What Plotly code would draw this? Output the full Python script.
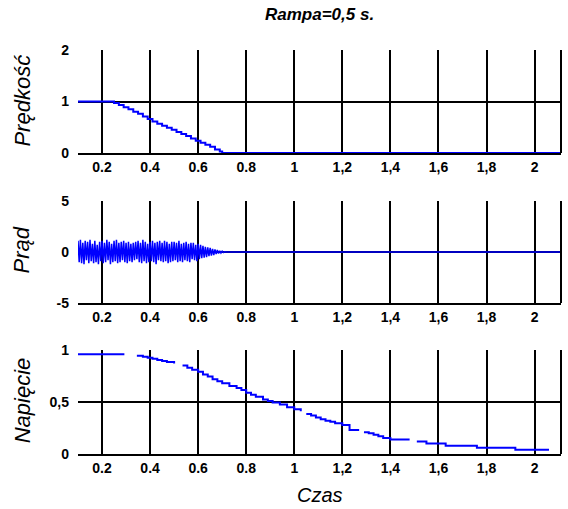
import plotly.graph_objects as go

# ---------------- data ----------------
x_ticks = [0.2, 0.4, 0.6, 0.8, 1.0, 1.2, 1.4, 1.6, 1.8, 2.0]
x_tick_text = ["0.2", "0.4", "0.6", "0.8", "1", "1,2", "1,4", "1,6", "1,8", "2"]

# Predkosc (speed)
t_speed = [0.10, 0.25, 0.27, 0.29, 0.31, 0.33, 0.35, 0.37, 0.39, 0.41, 0.43, 0.45, 0.47,
           0.49, 0.51, 0.53, 0.55, 0.57, 0.59, 0.61, 0.63, 0.65, 0.67, 0.69, 0.70, 2.11]
v_speed = [1.0, 0.97, 0.93, 0.89, 0.85, 0.80, 0.76, 0.71, 0.66, 0.61, 0.57, 0.53, 0.49,
           0.45, 0.41, 0.37, 0.33, 0.28, 0.24, 0.20, 0.16, 0.12, 0.07, 0.03, 0.0, 0.0]

# Prad (current)
t_cur = [0.100, 0.105, 0.110, 0.115, 0.120, 0.125, 0.130, 0.135, 0.140, 0.145,
         0.150, 0.155, 0.160, 0.165, 0.170, 0.175, 0.180, 0.185, 0.190, 0.195,
         0.200, 0.205, 0.210, 0.215, 0.220, 0.225, 0.230, 0.235, 0.240, 0.245,
         0.250, 0.255, 0.260, 0.265, 0.270, 0.275, 0.280, 0.285, 0.290, 0.295,
         0.300, 0.305, 0.310, 0.315, 0.320, 0.325, 0.330, 0.335, 0.340, 0.345,
         0.350, 0.355, 0.360, 0.365, 0.370, 0.375, 0.380, 0.385, 0.390, 0.395,
         0.400, 0.405, 0.410, 0.415, 0.420, 0.425, 0.430, 0.435, 0.440, 0.445,
         0.450, 0.455, 0.460, 0.465, 0.470, 0.475, 0.480, 0.485, 0.490, 0.495,
         0.500, 0.505, 0.510, 0.515, 0.520, 0.525, 0.530, 0.535, 0.540, 0.545,
         0.550, 0.555, 0.560, 0.565, 0.570, 0.575, 0.580, 0.585, 0.590, 0.595,
         0.600, 0.605, 0.610, 0.615, 0.620, 0.625, 0.630, 0.635, 0.640, 0.645,
         0.650, 0.655, 0.660, 0.665, 0.670, 0.675, 0.680, 0.685, 0.690, 0.695,
         0.700, 0.705, 0.710, 0.715, 0.720, 2.11]
i_cur = [1.1, -1.0, 1.2, -1.1, 0.9, -1.2, 1.1, -0.8, 1.0, -1.1,
         1.2, -0.9, 0.8, -1.1, 1.1, -1.0, 0.7, -1.2, 1.0, -0.9,
         1.1, -1.1, 0.9, -1.0, 1.2, -0.8, 1.0, -1.2, 0.8, -1.0,
         1.1, -0.9, 1.2, -1.1, 0.9, -1.0, 1.0, -0.8, 1.1, -1.0,
         0.9, -1.1, 1.0, -0.9, 0.8, -1.0, 0.9, -0.8, 1.0, -0.7,
         1.1, -1.0, 0.9, -1.1, 1.2, -0.9, 1.0, -1.1, 0.8, -1.0,
         1.0, -0.9, 1.1, -1.0, 0.9, -1.2, 1.0, -0.8, 1.1, -0.9,
         0.9, -1.0, 1.1, -0.9, 1.0, -1.1, 0.8, -1.0, 1.0, -0.9,
         1.0, -0.8, 0.9, -1.0, 1.1, -0.9, 0.8, -1.0, 0.9, -0.8,
         1.0, -0.9, 0.8, -1.0, 0.9, -0.7, 0.9, -0.8, 0.7, -0.9,
         0.8, -0.7, 0.7, -0.6, 0.6, -0.55, 0.5, -0.5, 0.45, -0.4,
         0.4, -0.35, 0.3, -0.3, 0.25, -0.2, 0.2, -0.15, 0.12, -0.1,
         0.08, -0.05, 0.03, -0.02, 0.0, 0.0]

# Napiecie (voltage) - None marks the gaps visible in the original trace
t_volt = [0.10, 0.293, 0.32,
          0.345, 0.37, 0.39, 0.41, 0.43, 0.45, 0.47, 0.50, 0.52,
          0.535, 0.555, 0.575, 0.60, 0.62, 0.64, 0.66, 0.68, 0.70, 0.73, 0.76, 0.78,
          0.80, 0.82, 0.84, 0.87, 0.89, 0.91, 0.94, 0.97, 1.00, 1.027, 1.04,
          1.05, 1.07, 1.09, 1.11, 1.13, 1.15, 1.17, 1.20, 1.23, 1.27, 1.28,
          1.29, 1.31, 1.33, 1.35, 1.37, 1.40, 1.48, 1.50,
          1.51, 1.55, 1.63, 1.76, 1.92, 2.06]
v_volt = [0.96, 0.96, None,
          0.945, 0.935, 0.925, 0.915, 0.905, 0.895, 0.885, 0.87, None,
          0.85, 0.83, 0.81, 0.79, 0.765, 0.745, 0.72, 0.70, 0.68, 0.655, 0.635, 0.615,
          0.59, 0.57, 0.55, 0.525, 0.51, 0.495, 0.475, 0.45, 0.43, 0.41, None,
          0.385, 0.37, 0.35, 0.335, 0.32, 0.31, 0.295, 0.28, 0.23, 0.23, None,
          0.21, 0.20, 0.185, 0.17, 0.155, 0.14, 0.14, None,
          0.12, 0.10, 0.08, 0.06, 0.04, 0.04]

# ---------------- figure ----------------
BLUE = "#0000ff"
fig = go.Figure()
fig.add_trace(go.Scatter(x=t_speed, y=v_speed, mode="lines", line=dict(color=BLUE, width=2, shape="hv"),
                         xaxis="x", yaxis="y", showlegend=False))
fig.add_trace(go.Scatter(x=t_cur, y=i_cur, mode="lines", line=dict(color=BLUE, width=1.5),
                         xaxis="x2", yaxis="y2", showlegend=False))
fig.add_trace(go.Scatter(x=t_volt, y=v_volt, mode="lines", line=dict(color=BLUE, width=2, shape="hv"),
                         connectgaps=False, xaxis="x3", yaxis="y3", showlegend=False))

tick_font = dict(family="Liberation Sans", size=14, color="black", weight="bold")
xcommon = dict(range=[0.1, 2.11], tickvals=x_ticks, ticktext=x_tick_text, showgrid=True,
               gridcolor="black", gridwidth=2, showline=True, linecolor="black", linewidth=2,
               zeroline=False, ticks="", tickfont=tick_font, fixedrange=True)
ycommon = dict(showgrid=True, gridcolor="black", gridwidth=2, showline=False, zeroline=False,
               ticks="", tickfont=tick_font, ticklabelstandoff=8)

fig.update_layout(
    width=568, height=509,
    margin=dict(l=78, r=7, t=50, b=55),
    paper_bgcolor="white", plot_bgcolor="white",
    xaxis=dict(anchor="y", **xcommon),
    xaxis2=dict(anchor="y2", **xcommon),
    xaxis3=dict(anchor="y3", **xcommon),
    yaxis=dict(domain=[0.745, 1.0], range=[0, 2], tickvals=[0, 1, 2], ticktext=["0", "1", "2"], **ycommon),
    yaxis2=dict(domain=[0.374, 0.626], range=[-5, 5], tickvals=[-5, 0, 5], ticktext=["-5", "0", "5"], **ycommon),
    yaxis3=dict(domain=[0.0, 0.2574], range=[0, 1], tickvals=[0, 0.5, 1], ticktext=["0", "0,5", "1"], **ycommon),
)

# right border of each panel
for xr, yr in [("x", "y"), ("x2", "y2"), ("x3", "y3")]:
    fig.add_shape(type="line", xref=xr + " domain", yref=yr + " domain",
                  x0=1, x1=1, y0=0, y1=1, line=dict(color="black", width=2))

fig.add_annotation(text="<b><i>Rampa=0,5 s.</i></b>", xref="paper", yref="paper", x=0.5, y=1.087,
                   showarrow=False, font=dict(family="Liberation Sans", size=17, color="black"),
                   xanchor="center", yanchor="middle")
fig.add_annotation(text="<i>Czas</i>", xref="paper", yref="paper", x=0.5, y=-0.101,
                   showarrow=False, font=dict(family="Liberation Sans", size=20, color="black"),
                   xanchor="center", yanchor="middle")
for txt, yy in [("Prędkość", 0.876), ("Prąd", 0.505), ("Napięcie", 0.134)]:
    fig.add_annotation(text="<i>" + txt + "</i>", xref="paper", yref="paper", x=-0.115, y=yy,
                       textangle=-90, showarrow=False,
                       font=dict(family="Liberation Sans", size=22, color="black"),
                       xanchor="center", yanchor="middle")

fig.write_html("out.html", config={"displayModeBar": False})
